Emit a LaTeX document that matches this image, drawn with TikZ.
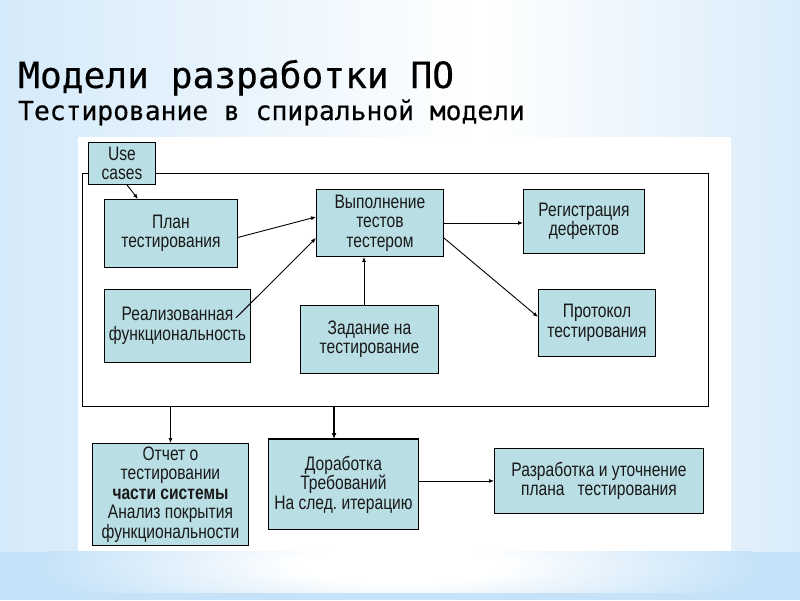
\documentclass[tikz,border=0pt]{standalone}
\usepackage{fontspec}
\setmainfont{Liberation Sans}
\newfontfamily\boxfont[FakeStretch=0.8]{Liberation Sans}
\newfontfamily\titlefont[FakeBold=0.4]{DejaVu Sans Mono}
\usetikzlibrary{arrows.meta,calc}
\definecolor{bgblue}{RGB}{197,226,248}
\definecolor{boxfill}{RGB}{185,222,228}
\pgfdeclarehorizontalshading{topglow}{100bp}{color(0bp)=(bgblue); color(14bp)=(bgblue); color(55bp)=(white); color(86bp)=(bgblue); color(100bp)=(bgblue)}
\pgfdeclareradialshading{glow}{\pgfpoint{0bp}{0bp}}{color(0bp)=(white); color(7bp)=(white); color(25bp)=(bgblue); color(50bp)=(bgblue)}
\tikzset{
  box/.style={draw=black, line width=0.9pt, fill=boxfill, inner sep=0pt, align=center,
    anchor=north west, text=black!90, font=\fontsize{19.5}{19.5}\boxfont},
  conn/.style={line width=0.9pt, -{Latex[length=5pt,width=4pt]}},
  ttl/.style={anchor=base west, inner sep=0pt, text=black},
}
\begin{document}
\begin{tikzpicture}[x=1pt,y=-1pt]
% background
\useasboundingbox (0,0) rectangle (800,600);
\fill[bgblue] (0,0) rectangle (800,600);
\shade[shading=topglow] (0,0) rectangle (800,551);
\begin{scope}
  \clip (0,551) rectangle (800,592);
  \shade[shading=glow] (400,565) ellipse [x radius=360pt, y radius=65pt];
\end{scope}
% white panel
\fill[white] (78,137) rectangle (731,551);

% titles
\node[ttl, font=\fontsize{36.2}{40}\titlefont] (t1) at (18,88) {Модели разработки ПО};
\node[ttl, font=\fontsize{26.3}{30}\titlefont] (t2) at (18,120) {Тестирование в спиральной модели};

% frame
\node[draw=black, line width=0.9pt, minimum width=626pt, minimum height=233pt, anchor=north west, inner sep=0pt] (frame) at (82,173) {};

% boxes
\node[box, minimum width=67pt, minimum height=42pt] (uc) at (88,142) {Use\\cases};
\node[box, minimum width=133pt, minimum height=68pt] (plan) at (104,199) {План\\тестирования};
\node[box, minimum width=146pt, minimum height=73pt] (real) at (104,289) {Реализованная\\функциональность};
\node[box, minimum width=127pt, minimum height=67pt] (vyp) at (316,189) {Выполнение\\тестов\\тестером};
\node[box, minimum width=121pt, minimum height=64pt] (regis) at (523,189) {Регистрация\\дефектов};
\node[box, minimum width=117pt, minimum height=67pt] (prot) at (538,289) {Протокол\\тестирования};
\node[box, minimum width=138pt, minimum height=68pt] (zadan) at (300,305) {Задание на\\тестирование};
\node[box, minimum width=156pt, minimum height=102pt] (otchet) at (92,443) {Отчет о\\тестировании\\\textbf{части системы}\\Анализ покрытия\\функциональности};
\node[box, minimum width=150pt, minimum height=90pt] (dorab) at (268,439) {Доработка\\Требований\\На след.\ итерацию};
\node[box, minimum width=209pt, minimum height=65pt] (razr) at (494,448) {Разработка и уточнение\\плана\ \ \ тестирования};
\draw[line width=2pt] (dorab.north west) -- (dorab.north east);

% helper coordinates
\coordinate (zx) at (364,0);
\coordinate (dx) at (334,0);

% connectors
\draw[conn] ([xshift=5pt]uc.south) -- ([xshift=-33pt]plan.north);
\draw[conn] ([yshift=-4pt]plan.east) -- ([yshift=6pt]vyp.west);
\draw[conn] ([xshift=-15pt,yshift=8pt]real.east) -- ([yshift=-15pt]vyp.west);
\draw[conn] (zadan.north -| zx) -- (vyp.south -| zx);
\draw[conn] (vyp.east) -- (vyp.east -| regis.west);
\draw[conn] ([yshift=-15pt]vyp.east) -- ([yshift=6pt]prot.west);
\draw[conn] (frame.south -| otchet.north) -- (otchet.north);
\draw[conn, line width=2pt, -{Latex[length=6pt,width=5pt]}] (frame.south -| dx) -- (dorab.north -| dx);
\draw[conn] (dorab.east |- razr.west) -- (razr.west);
\end{tikzpicture}
\end{document}
